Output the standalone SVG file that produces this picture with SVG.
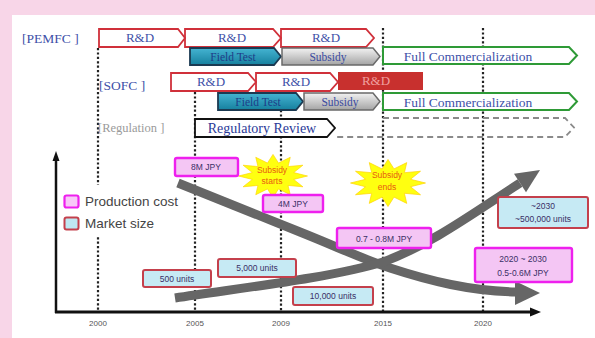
<svg xmlns="http://www.w3.org/2000/svg" xmlns:xlink="http://www.w3.org/1999/xlink" width="595" height="338" viewBox="0 0 595 338">
<defs>
<linearGradient id="gTeal" x1="0" y1="0" x2="0" y2="1"><stop offset="0" stop-color="#45b4d2"/><stop offset="1" stop-color="#16809e"/></linearGradient>
<linearGradient id="gGray" x1="0" y1="0" x2="0" y2="1"><stop offset="0" stop-color="#f2f2f2"/><stop offset="1" stop-color="#a4a4a4"/></linearGradient>
<polygon id="star" points="30,0 18,3.8 26,12 13.1,10.5 15,20.8 4.8,14.4 0,24 -4.8,14.4 -15,20.8 -13.1,10.5 -26,12 -18,3.8 -30,0 -18,-3.8 -26,-12 -13.1,-10.5 -15,-20.8 -4.8,-14.4 0,-24 4.8,-14.4 15,-20.8 13.1,-10.5 26,-12 18,-3.8"/>
</defs>
<style>
.serif{font-family:"Liberation Serif","DejaVu Serif",serif;}
.sans{font-family:"Liberation Sans","DejaVu Sans",sans-serif;}
.rd{fill:#fff;stroke:#d0303a;stroke-width:1.8;}
.rdt{font-size:13px;fill:#4050a8;text-anchor:middle;}
.ft{fill:url(#gTeal);stroke:#1b3a52;stroke-width:1.8;}
.ftt{font-size:11.5px;fill:#1e3c88;text-anchor:middle;}
.sub{fill:url(#gGray);stroke:#6a6a6a;stroke-width:1.5;}
.subt{font-size:11.5px;fill:#3a4aa0;text-anchor:middle;}
.fc{fill:#fff;stroke:#2e9a36;stroke-width:2;}
.fct{font-size:13.5px;fill:#4050a8;text-anchor:middle;}
.vd{stroke:#222;stroke-width:2.2;stroke-dasharray:2.2,2.2;fill:none;}
.cost{fill:#f4c6f4;stroke:#ee20ee;stroke-width:2.4;}
.mkt{fill:#c6eaf4;stroke:#c4404c;stroke-width:2;}
.lbl{font-size:8.5px;fill:#3a2f66;text-anchor:middle;}
.yr{font-size:8px;fill:#555;text-anchor:middle;}
.burst{fill:#ffff10;stroke:#ffd000;stroke-width:0.6;}
.bt{font-size:8.5px;fill:#e85a10;text-anchor:middle;}
.curve{fill:none;stroke:#666;stroke-width:9;}
.head{fill:#666;}
</style>
<rect x="0" y="0" width="595" height="338" fill="#f8d6e8"/>
<rect x="12" y="15" width="583" height="323" fill="#fff"/>

<g id="grid">
<line class="vd" x1="98" y1="48" x2="98" y2="311"/>
<line class="vd" x1="195" y1="92" x2="195" y2="311"/>
<line class="vd" x1="281" y1="110" x2="281" y2="311"/>
<line class="vd" x1="383" y1="28" x2="383" y2="311"/>
<line class="vd" x1="483" y1="28" x2="483" y2="311"/>
<line x1="56" y1="160" x2="56" y2="313" stroke="#111" stroke-width="2.5"/>
<polygon points="56,151 52.5,161 59.5,161" fill="#111"/>
<line x1="55" y1="312" x2="532" y2="312" stroke="#111" stroke-width="3"/>
<polygon points="541,312 530,307.5 530,316.5" fill="#111"/>
<text class="sans yr" x="98" y="326">2000</text>
<text class="sans yr" x="195" y="326">2005</text>
<text class="sans yr" x="281" y="326">2009</text>
<text class="sans yr" x="383" y="326">2015</text>
<text class="sans yr" x="483" y="326">2020</text>
</g>

<g id="pemfc-label"><text class="serif" x="22" y="43" font-size="13.5" fill="#4050a8">[PEMFC ]</text></g>
<g id="sofc-label"><text class="serif" x="99" y="90" font-size="13.5" fill="#4050a8">[SOFC ]</text></g>
<g id="regulation-label"><text class="serif" x="98" y="132" font-size="12.5" fill="#9a9a9a">[Regulation ]</text></g>

<g id="pemfc-rd3"><polygon class="rd" points="281,29 366,29 374,38 366,47 281,47"/><text class="serif rdt" x="326" y="42">R&amp;D</text></g>
<g id="pemfc-rd2"><polygon class="rd" points="185,29 273,29 281,38 273,47 185,47"/><text class="serif rdt" x="232" y="42">R&amp;D</text></g>
<g id="pemfc-rd1"><polygon class="rd" points="99,29 178,29 185,38 178,47 99,47"/><text class="serif rdt" x="140" y="42">R&amp;D</text></g>
<g id="pemfc-fieldtest"><polygon class="ft" points="190,48 274,48 281,56.5 274,65 190,65"/><text class="serif ftt" x="233" y="60.5">Field Test</text></g>
<g id="pemfc-subsidy"><polygon class="sub" points="282,48 373,48 380,56.5 373,65 282,65"/><text class="serif subt" x="328" y="60.5">Subsidy</text></g>
<g id="pemfc-fullcomm"><polygon class="fc" points="383,47 569,47 577,55.5 569,64 383,64"/><text class="serif fct" x="468" y="60.5">Full Commercialization</text></g>

<g id="sofc-rd2"><polygon class="rd" points="256,73 330,73 338,82 330,91 256,91"/><text class="serif rdt" x="296" y="86">R&amp;D</text></g>
<g id="sofc-rd1"><polygon class="rd" points="171,73 248,73 256,82 248,91 171,91"/><text class="serif rdt" x="211" y="86">R&amp;D</text></g>
<g id="sofc-rd3"><rect x="338" y="72" width="85" height="18" fill="#c8302e"/><text class="serif rdt" x="376" y="85" style="fill:#f0a0a0">R&amp;D</text></g>
<g id="sofc-fieldtest"><polygon class="ft" points="218,93 296,93 303,101.5 296,110 218,110"/><text class="serif ftt" x="258" y="105.5">Field Test</text></g>
<g id="sofc-subsidy"><polygon class="sub" points="304,93 373,93 380,101.5 373,110 304,110"/><text class="serif subt" x="340" y="105.5">Subsidy</text></g>
<g id="sofc-fullcomm"><polygon class="fc" points="383,93 569,93 577,101.5 569,110 383,110"/><text class="serif fct" x="468" y="106.5">Full Commercialization</text></g>

<g id="regulation-future"><polyline points="383,118 565,118 574,127.5 565,137 335,137" fill="none" stroke="#8a8a8a" stroke-width="1.8" stroke-dasharray="6,4"/></g>
<g id="regulatory-review"><polygon points="195,119 327,119 335,128 327,137 195,137" fill="#fff" stroke="#111" stroke-width="1.8"/><text class="serif" x="262" y="133" font-size="14" fill="#2a3a98" text-anchor="middle">Regulatory Review</text></g>

<g id="legend">
<rect x="60" y="185" width="130" height="52" fill="#fff"/>
<rect x="64.5" y="195.5" width="14" height="12" rx="2" fill="#f8c8f8" stroke="#ee20ee" stroke-width="2.2"/>
<text class="sans" x="85" y="206" font-size="13.5" fill="#444">Production cost</text>
<rect x="64.5" y="217.5" width="14" height="12" rx="2" fill="#bfe8f2" stroke="#c4404c" stroke-width="2"/>
<text class="sans" x="85" y="228" font-size="13.5" fill="#444">Market size</text>
</g>

<g id="connectors">
<path class="curve" d="M178,183 L300,232 C340,248 360,258 390,268 C430,281 470,291 516,292"/>
<polygon class="head" points="540,293 515,281 515,305"/>
<path class="curve" d="M175,298 C240,288 330,278 383,262 C430,245 472,214 520,183"/>
<polygon class="head" points="540,170 514,173.8 526,192.2"/>
</g>

<g id="subsidy-starts"><use href="#star" xlink:href="#star" class="burst" transform="translate(273,176) scale(1.15,0.9)"/><text class="sans bt" x="272" y="173">Subsidy</text><text class="sans bt" x="272" y="184">starts</text></g>
<g id="subsidy-ends"><use href="#star" xlink:href="#star" class="burst" transform="translate(388,183) scale(1.25,0.98)"/><text class="sans bt" x="387" y="178">Subsidy</text><text class="sans bt" x="387" y="190">ends</text></g>

<g id="cost-8m"><rect class="cost" x="175" y="158" width="63" height="18" rx="2"/><text class="sans lbl" x="206" y="170">8M JPY</text></g>
<g id="cost-4m"><rect class="cost" x="263" y="195" width="60" height="17" rx="2"/><text class="sans lbl" x="293" y="206.5">4M JPY</text></g>
<g id="cost-07"><rect class="cost" x="337" y="228" width="94" height="20" rx="2"/><text class="sans lbl" x="384" y="241.5" font-size="9.5">0.7 - 0.8M JPY</text></g>
<g id="cost-2030"><rect class="cost" x="475" y="248" width="97" height="34" rx="2"/><text class="sans lbl" x="523" y="262" font-size="9.5">2020 ~ 2030</text><text class="sans lbl" x="523" y="276" font-size="9.5">0.5-0.6M JPY</text></g>
<g id="market-500"><rect class="mkt" x="143" y="270" width="68" height="17" rx="2"/><text class="sans lbl" x="177" y="281.5">500 units</text></g>
<g id="market-5000"><rect class="mkt" x="218" y="259" width="78" height="18" rx="2"/><text class="sans lbl" x="257" y="271">5,000 units</text></g>
<g id="market-10000"><rect class="mkt" x="293" y="287" width="80" height="18" rx="2"/><text class="sans lbl" x="333" y="299">10,000 units</text></g>
<g id="market-2030"><rect class="mkt" x="498" y="197" width="90" height="31" rx="2"/><text class="sans lbl" x="543" y="209">~2030</text><text class="sans lbl" x="543" y="222">~500,000 units</text></g>
</svg>
